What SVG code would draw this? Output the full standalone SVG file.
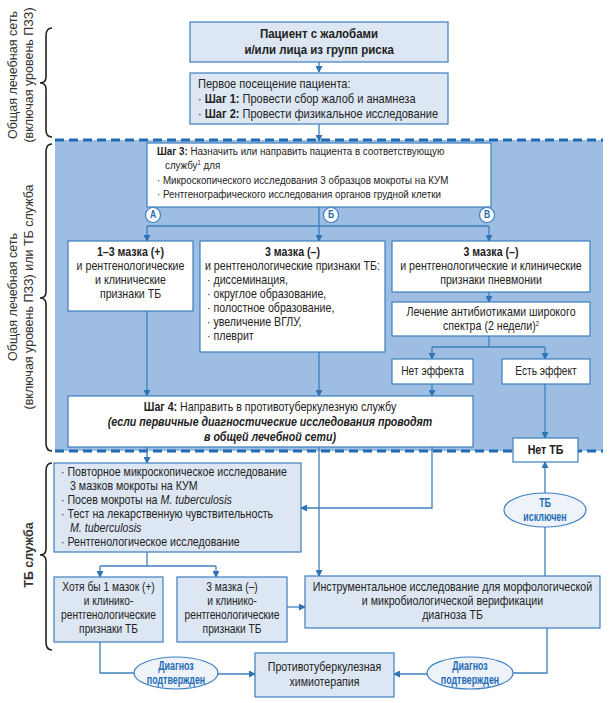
<svg xmlns="http://www.w3.org/2000/svg" width="609" height="703" viewBox="0 0 609 703">
<defs>
<marker id="ah" markerWidth="7" markerHeight="7" refX="6" refY="3.5" orient="auto" markerUnits="userSpaceOnUse">
<path d="M0,0 L7,3.5 L0,7 Z" fill="#2f74b5"/>
</marker>
<style>
.pale{fill:#dde7f3;stroke:#3d7fbf;stroke-width:1.2}
.wht{fill:#ffffff;stroke:#3d7fbf;stroke-width:1.2}
.ell{fill:#eef3fa;stroke:#3d7fbf;stroke-width:1.2}
.t{font-family:"Liberation Sans",Arial,sans-serif;font-size:11.5px;fill:#222;transform-box:fill-box;transform-origin:0 50%;transform:scale(0.85,1)}
.c{text-anchor:middle;transform-origin:50% 50%}
.b{font-weight:bold}
.bl{fill:#1f6cb3;font-weight:bold}
.f10{font-size:10px}
.fe{font-size:12px;transform:scale(0.74,1)}
.f12{font-size:12px}
.f125{font-size:12.5px}
.f13{font-size:13px}
.f135{font-size:13.5px}
.lab{font-family:"Liberation Sans",Arial,sans-serif;font-size:12.5px;fill:#333;text-anchor:middle}
.ln{stroke:#3d7fbf;stroke-width:1.3;fill:none}
.ar{stroke:#3d7fbf;stroke-width:1.3;fill:none;marker-end:url(#ah)}
.dash{stroke:#1f6cb3;stroke-width:3;stroke-dasharray:9 5;fill:none}
.brace{stroke:#222;stroke-width:1.6;fill:none}
</style>
</defs>

<rect x="55" y="140" width="548" height="311" fill="#9dbde3"/>
<path class="dash" d="M55,140 H603"/>
<path class="dash" d="M55,451 H603"/>

<g id="labels">
<text class="lab" transform="translate(17,75) rotate(-90)">Общая лечебная сеть</text>
<text class="lab" transform="translate(33,75) rotate(-90)">(включая уровень ПЗЗ)</text>
<text class="lab" transform="translate(17,297) rotate(-90)">Общая лечебная сеть</text>
<text class="lab" transform="translate(33,297) rotate(-90)">(включая уровень ПЗЗ) или ТБ служба</text>
<text class="lab b" transform="translate(33,555) rotate(-90)">ТБ служба</text>
<path class="brace" d="M52,28 Q46,28 46,36 V77 Q46,83 40,83 Q46,83 46,89 V130 Q46,137 52,137"/>
<path class="brace" d="M52,144 Q46,144 46,152 V292 Q46,298 40,298 Q46,298 46,304 V443 Q46,451 52,451"/>
<path class="brace" d="M52,463 Q46,463 46,471 V549 Q46,555 40,555 Q46,555 46,561 V642 Q46,650 52,650"/>
</g>

<g id="connectors">
<path class="ar" d="M319,62 V72"/>
<path class="ar" d="M319,124 V141"/>
<path class="ln" d="M319,207 V226 M147,226 H489"/>
<path class="ar" d="M147,226 V241"/>
<path class="ar" d="M319,226 V241"/>
<path class="ar" d="M489,226 V241"/>
<path class="ar" d="M489,292 V302"/>
<path class="ln" d="M489,336 V347 M432,347 H545"/>
<path class="ar" d="M432,347 V359"/>
<path class="ar" d="M545,347 V359"/>
<path class="ar" d="M432,384 V396"/>
<path class="ar" d="M545,384 V438"/>
<path class="ar" d="M147,311 V396"/>
<path class="ar" d="M319,352 V396"/>
<path class="ar" d="M147,447 V463"/>
<path class="ar" d="M432,447 V508 H301"/>
<path class="ar" d="M319,447 V576"/>
<path class="ar" d="M545,493 V462"/>
<path class="ln" d="M545,527 V576"/>
<path class="ln" d="M147,552 V566 M100,566 H216"/>
<path class="ar" d="M100,566 V577"/>
<path class="ar" d="M216,566 V577"/>
<path class="ar" d="M287,607 H305"/>
<path class="ln" d="M100,642 V673 H134"/>
<path class="ar" d="M218,674 H255"/>
<path class="ln" d="M547,628 V673 H513"/>
<path class="ar" d="M427,674 H394"/>
</g>

<g id="n-patient">
<rect class="pale" x="190" y="22" width="258" height="40"/>
<text class="t b c f135" x="319" y="38">Пациент с жалобами</text>
<text class="t b c f135" x="319" y="54">и/или лица из групп риска</text>
</g>

<g id="n-visit">
<rect class="pale" x="190" y="73" width="258" height="51"/>
<text class="t f13" x="198" y="88">Первое посещение пациента:</text>
<text class="t f13" x="198" y="103">·  <tspan class="b">Шаг 1:</tspan> Провести сбор жалоб и анамнеза</text>
<text class="t f13" x="198" y="118">·  <tspan class="b">Шаг 2:</tspan> Провести физикальное исследование</text>
</g>

<g id="n-step3">
<rect class="wht" x="147" y="143" width="344" height="64"/>
<text class="t" x="157" y="155"><tspan class="b">Шаг 3:</tspan> Назначить или направить пациента в соответствующую</text>
<text class="t" x="165" y="169">службу<tspan font-size="7" dy="-4">1</tspan><tspan dy="4"> для</tspan></text>
<text class="t" x="157" y="184">·  Микроскопического исследования 3 образцов мокроты на КУМ</text>
<text class="t" x="157" y="198">·  Рентгенографического исследования органов грудной клетки</text>
</g>

<g id="n-circles">
<circle cx="153" cy="215" r="7.5" fill="#fff" stroke="#3d7fbf" stroke-width="1.2"/>
<text class="t bl c f10" x="153" y="218.5">А</text>
<circle cx="331" cy="215" r="7.5" fill="#fff" stroke="#3d7fbf" stroke-width="1.2"/>
<text class="t bl c f10" x="331" y="218.5">Б</text>
<circle cx="487" cy="215" r="7.5" fill="#fff" stroke="#3d7fbf" stroke-width="1.2"/>
<text class="t bl c f10" x="487" y="218.5">В</text>
</g>

<g id="n-a">
<rect class="wht" x="68" y="241" width="125" height="70"/>
<text class="t b c f125" x="130.5" y="256">1–3 мазка (+)</text>
<text class="t c f125" x="130.5" y="270">и рентгенологические</text>
<text class="t c f125" x="130.5" y="284">и клинические</text>
<text class="t c f125" x="130.5" y="298">признаки ТБ</text>
</g>

<g id="n-b">
<rect class="wht" x="200" y="241" width="185" height="111"/>
<text class="t b c f125" x="292.5" y="256">3 мазка (–)</text>
<text class="t f125" x="205" y="270">и рентгенологические признаки ТБ:</text>
<text class="t f125" x="207" y="284">·  диссеминация,</text>
<text class="t f125" x="207" y="298">·  округлое образование,</text>
<text class="t f125" x="207" y="312">·  полостное образование,</text>
<text class="t f125" x="207" y="326">·  увеличение ВГЛУ,</text>
<text class="t f125" x="207" y="340">·  плеврит</text>
</g>

<g id="n-v">
<rect class="wht" x="392" y="241" width="198" height="51"/>
<text class="t b c f125" x="491" y="256">3 мазка (–)</text>
<text class="t c f125" x="491" y="270">и рентгенологические и клинические</text>
<text class="t c f125" x="491" y="284">признаки пневмонии</text>
</g>

<g id="n-antibiotics">
<rect class="wht" x="392" y="302" width="198" height="34"/>
<text class="t c f125" x="491" y="316">Лечение антибиотиками широкого</text>
<text class="t c f125" x="491" y="330">спектра (2 недели)<tspan font-size="7" dy="-4">2</tspan></text>
</g>

<g id="n-noeffect">
<rect class="wht" x="392" y="359" width="81" height="25"/>
<text class="t c f12" x="432.5" y="375">Нет эффекта</text>
</g>

<g id="n-effect">
<rect class="wht" x="502" y="359" width="88" height="25"/>
<text class="t c f12" x="546" y="375">Есть эффект</text>
</g>

<g id="n-step4">
<rect class="wht" x="68" y="396" width="405" height="51"/>
<text class="t c f125" x="270" y="411"><tspan class="b">Шаг 4:</tspan> Направить в противотуберкулезную службу</text>
<text class="t c b f125" x="270" y="426" font-style="italic">(если первичные диагностические исследования проводят</text>
<text class="t c b f125" x="270" y="441" font-style="italic">в общей лечебной сети)</text>
</g>

<g id="n-notb">
<rect class="wht" x="513" y="438" width="65" height="24"/>
<text class="t b c f125" x="545.5" y="454.5">Нет ТБ</text>
</g>

<g id="n-tbexcluded">
<ellipse class="ell" cx="545" cy="510" rx="41" ry="17"/>
<text class="t bl c fe" x="545" y="507">ТБ</text>
<text class="t bl c fe" x="545" y="521">исключен</text>
</g>

<g id="n-tbtests">
<rect class="pale" x="54" y="463" width="247" height="89"/>
<text class="t f125" x="61" y="476">·  Повторное микроскопическое исследование</text>
<text class="t f125" x="70" y="490">3 мазков мокроты на КУМ</text>
<text class="t f125" x="61" y="504">·  Посев мокроты на <tspan font-style="italic">M. tuberculosis</tspan></text>
<text class="t f125" x="61" y="518">·  Тест на лекарственную чувствительность</text>
<text class="t f125" x="70" y="532" font-style="italic">M. tuberculosis</text>
<text class="t f125" x="61" y="546">·  Рентгенологическое исследование</text>
</g>

<g id="n-pos">
<rect class="pale" x="54" y="577" width="109" height="65"/>
<text class="t c f12" x="108.5" y="591">Хотя бы 1 мазок (+)</text>
<text class="t c f12" x="108.5" y="605">и клинико-</text>
<text class="t c f12" x="108.5" y="619">рентгенологические</text>
<text class="t c f12" x="108.5" y="633">признаки ТБ</text>
</g>

<g id="n-neg">
<rect class="pale" x="177" y="577" width="110" height="65"/>
<text class="t c f12" x="232" y="591">3 мазка (–)</text>
<text class="t c f12" x="232" y="605">и клинико-</text>
<text class="t c f12" x="232" y="619">рентгенологические</text>
<text class="t c f12" x="232" y="633">признаки ТБ</text>
</g>

<g id="n-instr">
<rect class="pale" x="305" y="576" width="295" height="52"/>
<text class="t c f125" x="452.5" y="591">Инструментальное исследование для морфологической</text>
<text class="t c f125" x="452.5" y="605">и микробиологической верификации</text>
<text class="t c f125" x="452.5" y="619">диагноза ТБ</text>
</g>

<g id="n-dx1">
<ellipse class="ell" cx="176" cy="673" rx="42" ry="16"/>
<text class="t bl c fe" x="176" y="670">Диагноз</text>
<text class="t bl c fe" x="176" y="684">подтвержден</text>
</g>

<g id="n-chemo">
<rect class="pale" x="255" y="653" width="139" height="44"/>
<text class="t c f125" x="324.5" y="671">Противотуберкулезная</text>
<text class="t c f125" x="324.5" y="686">химиотерапия</text>
</g>

<g id="n-dx2">
<ellipse class="ell" cx="470" cy="673" rx="43" ry="16"/>
<text class="t bl c fe" x="470" y="670">Диагноз</text>
<text class="t bl c fe" x="470" y="684">подтвержден</text>
</g>
</svg>
